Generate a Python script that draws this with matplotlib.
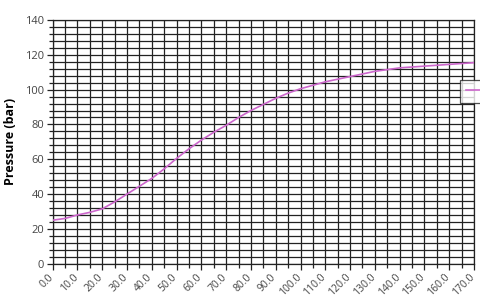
import matplotlib
matplotlib.use("Agg")
import matplotlib.pyplot as plt
import matplotlib.transforms as mtransforms
from matplotlib.ticker import MultipleLocator, FixedLocator

temperature = [0, 5, 10, 15, 20, 25, 30, 35, 40, 45, 50, 55, 60, 65, 70, 75, 80, 85,
               90, 95, 100, 105, 110, 115, 120, 125, 130, 135, 140, 145, 150, 155, 160, 165, 170]
pressure = [25, 26, 28, 29.5, 31.5, 35.5, 40, 44.5, 49, 54.5, 60.5, 66, 71, 75.5, 79.5, 84, 88, 91.5,
            95, 98, 100.5, 102.5, 104.5, 106, 107.5, 109, 110.5, 111.5, 112.5, 113, 113.5, 114, 114.5, 115, 115.5]
x_ticks = list(range(0, 171, 10))
x_labels = [f"{v:.1f}" for v in x_ticks]
y_ticks = [0, 20, 40, 60, 80, 100, 120, 140]

plt.rcParams['font.family'] = ['Open Sans', 'DejaVu Sans']

fig = plt.figure(figsize=(4.8, 3.04), dpi=100)
ax = fig.add_axes([0.1098, 0.1326, 0.8777, 0.8016])

ax.set_xlim(0, 170)
ax.set_ylim(0, 140)

ax.xaxis.set_major_locator(FixedLocator(x_ticks))
ax.xaxis.set_minor_locator(MultipleLocator(5))
ax.yaxis.set_major_locator(FixedLocator(y_ticks))
ax.yaxis.set_minor_locator(MultipleLocator(4))

ax.set_xticklabels([])
ax.set_yticklabels([str(v) for v in y_ticks], fontsize=8, color='#444444')

offset = mtransforms.ScaledTranslation(-5 / 100, -8 / 100, fig.dpi_scale_trans)
xt = ax.get_xaxis_transform() + offset
for xv, lab in zip(x_ticks, x_labels):
    ax.text(xv, 0, lab, transform=xt, rotation=45, ha='right', va='top',
            rotation_mode='anchor', fontsize=7.5, color='#444444', clip_on=False)

ax.grid(which='both', axis='both', color='#222222', linewidth=0.9)
ax.tick_params(which='major', length=4, width=0.9, color='#222222', pad=2)
ax.tick_params(which='minor', length=3, width=0.9, color='#222222')
for s in ax.spines.values():
    s.set_color('#222222')
    s.set_linewidth(0.9)

line, = ax.plot(temperature, pressure, color='#cc66cc', linewidth=1.2, label=' ', zorder=3)

ax.set_ylabel('Pressure (bar)', fontsize=9, fontweight='bold', labelpad=6)

leg = fig.legend(handles=[line], loc='upper left', bbox_to_anchor=(0.958, 0.737),
                 bbox_transform=fig.transFigure, fontsize=7, frameon=True, fancybox=False,
                 borderpad=0.6, handlelength=2.5, borderaxespad=0)
leg.get_frame().set_edgecolor('#222222')
leg.get_frame().set_linewidth(0.9)

fig.savefig('out.png', dpi=100)
